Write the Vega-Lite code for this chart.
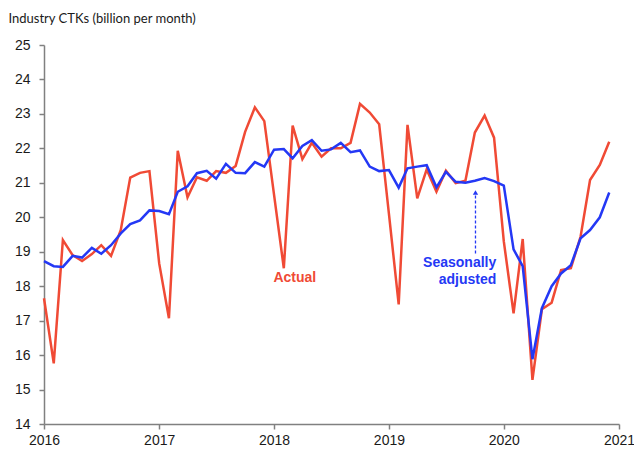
{
  "$schema": "https://vega.github.io/schema/vega-lite/v6.json",
  "autosize": "none",
  "width": 575,
  "height": 379,
  "padding": {"left": 44, "top": 45, "right": 15, "bottom": 28},
  "background": "white",
  "config": {"view": {"stroke": null}},
  "datasets": {
    "series": [
      {"date": "2016-01-01", "series": "Actual", "value": 17.65},
      {"date": "2016-02-01", "series": "Actual", "value": 15.76},
      {"date": "2016-03-01", "series": "Actual", "value": 19.34},
      {"date": "2016-04-01", "series": "Actual", "value": 18.9},
      {"date": "2016-05-01", "series": "Actual", "value": 18.73},
      {"date": "2016-06-01", "series": "Actual", "value": 18.93},
      {"date": "2016-07-01", "series": "Actual", "value": 19.19},
      {"date": "2016-08-01", "series": "Actual", "value": 18.88},
      {"date": "2016-09-01", "series": "Actual", "value": 19.63},
      {"date": "2016-10-01", "series": "Actual", "value": 21.15},
      {"date": "2016-11-01", "series": "Actual", "value": 21.29},
      {"date": "2016-12-01", "series": "Actual", "value": 21.34},
      {"date": "2017-01-01", "series": "Actual", "value": 18.66},
      {"date": "2017-02-01", "series": "Actual", "value": 17.07},
      {"date": "2017-03-01", "series": "Actual", "value": 21.93},
      {"date": "2017-04-01", "series": "Actual", "value": 20.58},
      {"date": "2017-05-01", "series": "Actual", "value": 21.16},
      {"date": "2017-06-01", "series": "Actual", "value": 21.06},
      {"date": "2017-07-01", "series": "Actual", "value": 21.34},
      {"date": "2017-08-01", "series": "Actual", "value": 21.29},
      {"date": "2017-09-01", "series": "Actual", "value": 21.49},
      {"date": "2017-10-01", "series": "Actual", "value": 22.48},
      {"date": "2017-11-01", "series": "Actual", "value": 23.19},
      {"date": "2017-12-01", "series": "Actual", "value": 22.79},
      {"date": "2018-01-01", "series": "Actual", "value": 20.65},
      {"date": "2018-02-01", "series": "Actual", "value": 18.52},
      {"date": "2018-03-01", "series": "Actual", "value": 22.66},
      {"date": "2018-04-01", "series": "Actual", "value": 21.69},
      {"date": "2018-05-01", "series": "Actual", "value": 22.16},
      {"date": "2018-06-01", "series": "Actual", "value": 21.76},
      {"date": "2018-07-01", "series": "Actual", "value": 22.0},
      {"date": "2018-08-01", "series": "Actual", "value": 22.0},
      {"date": "2018-09-01", "series": "Actual", "value": 22.16},
      {"date": "2018-10-01", "series": "Actual", "value": 23.29},
      {"date": "2018-11-01", "series": "Actual", "value": 23.04},
      {"date": "2018-12-01", "series": "Actual", "value": 22.7},
      {"date": "2019-01-01", "series": "Actual", "value": 20.1},
      {"date": "2019-02-01", "series": "Actual", "value": 17.47},
      {"date": "2019-03-01", "series": "Actual", "value": 22.68},
      {"date": "2019-04-01", "series": "Actual", "value": 20.55},
      {"date": "2019-05-01", "series": "Actual", "value": 21.39},
      {"date": "2019-06-01", "series": "Actual", "value": 20.74},
      {"date": "2019-07-01", "series": "Actual", "value": 21.35},
      {"date": "2019-08-01", "series": "Actual", "value": 20.99},
      {"date": "2019-09-01", "series": "Actual", "value": 21.06},
      {"date": "2019-10-01", "series": "Actual", "value": 22.46},
      {"date": "2019-11-01", "series": "Actual", "value": 22.95},
      {"date": "2019-12-01", "series": "Actual", "value": 22.31},
      {"date": "2020-01-01", "series": "Actual", "value": 19.3},
      {"date": "2020-02-01", "series": "Actual", "value": 17.21},
      {"date": "2020-03-01", "series": "Actual", "value": 19.37},
      {"date": "2020-04-01", "series": "Actual", "value": 15.28},
      {"date": "2020-05-01", "series": "Actual", "value": 17.33},
      {"date": "2020-06-01", "series": "Actual", "value": 17.52},
      {"date": "2020-07-01", "series": "Actual", "value": 18.47},
      {"date": "2020-08-01", "series": "Actual", "value": 18.52},
      {"date": "2020-09-01", "series": "Actual", "value": 19.44},
      {"date": "2020-10-01", "series": "Actual", "value": 21.08},
      {"date": "2020-11-01", "series": "Actual", "value": 21.52},
      {"date": "2020-12-01", "series": "Actual", "value": 22.19},
      {"date": "2016-01-01", "series": "Seasonally adjusted", "value": 18.73},
      {"date": "2016-02-01", "series": "Seasonally adjusted", "value": 18.58},
      {"date": "2016-03-01", "series": "Seasonally adjusted", "value": 18.56},
      {"date": "2016-04-01", "series": "Seasonally adjusted", "value": 18.88},
      {"date": "2016-05-01", "series": "Seasonally adjusted", "value": 18.83},
      {"date": "2016-06-01", "series": "Seasonally adjusted", "value": 19.11},
      {"date": "2016-07-01", "series": "Seasonally adjusted", "value": 18.94},
      {"date": "2016-08-01", "series": "Seasonally adjusted", "value": 19.19},
      {"date": "2016-09-01", "series": "Seasonally adjusted", "value": 19.53},
      {"date": "2016-10-01", "series": "Seasonally adjusted", "value": 19.8},
      {"date": "2016-11-01", "series": "Seasonally adjusted", "value": 19.91},
      {"date": "2016-12-01", "series": "Seasonally adjusted", "value": 20.2},
      {"date": "2017-01-01", "series": "Seasonally adjusted", "value": 20.18},
      {"date": "2017-02-01", "series": "Seasonally adjusted", "value": 20.09},
      {"date": "2017-03-01", "series": "Seasonally adjusted", "value": 20.74},
      {"date": "2017-04-01", "series": "Seasonally adjusted", "value": 20.9},
      {"date": "2017-05-01", "series": "Seasonally adjusted", "value": 21.28},
      {"date": "2017-06-01", "series": "Seasonally adjusted", "value": 21.35},
      {"date": "2017-07-01", "series": "Seasonally adjusted", "value": 21.12},
      {"date": "2017-08-01", "series": "Seasonally adjusted", "value": 21.55},
      {"date": "2017-09-01", "series": "Seasonally adjusted", "value": 21.29},
      {"date": "2017-10-01", "series": "Seasonally adjusted", "value": 21.28},
      {"date": "2017-11-01", "series": "Seasonally adjusted", "value": 21.6},
      {"date": "2017-12-01", "series": "Seasonally adjusted", "value": 21.47},
      {"date": "2018-01-01", "series": "Seasonally adjusted", "value": 21.96},
      {"date": "2018-02-01", "series": "Seasonally adjusted", "value": 21.98},
      {"date": "2018-03-01", "series": "Seasonally adjusted", "value": 21.71},
      {"date": "2018-04-01", "series": "Seasonally adjusted", "value": 22.07},
      {"date": "2018-05-01", "series": "Seasonally adjusted", "value": 22.24},
      {"date": "2018-06-01", "series": "Seasonally adjusted", "value": 21.93},
      {"date": "2018-07-01", "series": "Seasonally adjusted", "value": 21.97},
      {"date": "2018-08-01", "series": "Seasonally adjusted", "value": 22.16},
      {"date": "2018-09-01", "series": "Seasonally adjusted", "value": 21.89},
      {"date": "2018-10-01", "series": "Seasonally adjusted", "value": 21.94},
      {"date": "2018-11-01", "series": "Seasonally adjusted", "value": 21.47},
      {"date": "2018-12-01", "series": "Seasonally adjusted", "value": 21.34},
      {"date": "2019-01-01", "series": "Seasonally adjusted", "value": 21.37},
      {"date": "2019-02-01", "series": "Seasonally adjusted", "value": 20.86},
      {"date": "2019-03-01", "series": "Seasonally adjusted", "value": 21.42},
      {"date": "2019-04-01", "series": "Seasonally adjusted", "value": 21.47},
      {"date": "2019-05-01", "series": "Seasonally adjusted", "value": 21.51},
      {"date": "2019-06-01", "series": "Seasonally adjusted", "value": 20.87},
      {"date": "2019-07-01", "series": "Seasonally adjusted", "value": 21.32},
      {"date": "2019-08-01", "series": "Seasonally adjusted", "value": 21.03},
      {"date": "2019-09-01", "series": "Seasonally adjusted", "value": 21.0},
      {"date": "2019-10-01", "series": "Seasonally adjusted", "value": 21.06},
      {"date": "2019-11-01", "series": "Seasonally adjusted", "value": 21.14},
      {"date": "2019-12-01", "series": "Seasonally adjusted", "value": 21.05},
      {"date": "2020-01-01", "series": "Seasonally adjusted", "value": 20.92},
      {"date": "2020-02-01", "series": "Seasonally adjusted", "value": 19.07},
      {"date": "2020-03-01", "series": "Seasonally adjusted", "value": 18.58},
      {"date": "2020-04-01", "series": "Seasonally adjusted", "value": 15.88},
      {"date": "2020-05-01", "series": "Seasonally adjusted", "value": 17.36},
      {"date": "2020-06-01", "series": "Seasonally adjusted", "value": 18.0},
      {"date": "2020-07-01", "series": "Seasonally adjusted", "value": 18.37},
      {"date": "2020-08-01", "series": "Seasonally adjusted", "value": 18.61},
      {"date": "2020-09-01", "series": "Seasonally adjusted", "value": 19.39},
      {"date": "2020-10-01", "series": "Seasonally adjusted", "value": 19.63},
      {"date": "2020-11-01", "series": "Seasonally adjusted", "value": 20.0},
      {"date": "2020-12-01", "series": "Seasonally adjusted", "value": 20.72}
    ],
    "actualLabel": [
      {"date": "2018-03-08", "value": 18.24, "label": "Actual"}
    ],
    "saLabel": [
      {"date": "2019-12-08", "value": 18.67, "label": "Seasonally"},
      {"date": "2019-12-08", "value": 18.18, "label": "adjusted"}
    ],
    "arrow": [
      {"date": "2019-10-03", "value": 18.95, "value2": 20.72}
    ],
    "arrowHead": [
      {"date": "2019-10-03", "value": 20.72}
    ]
  },
  "encoding": {
    "x": {
      "field": "date",
      "type": "temporal",
      "scale": {"type": "utc", "domain": ["2016-01-01", "2021-01-01"], "nice": false},
      "axis": {
        "format": "%Y",
        "formatType": "utc",
        "values": ["2016-01-01", "2017-01-01", "2018-01-01", "2019-01-01", "2020-01-01", "2021-01-01"],
        "title": null,
        "grid": false,
        "domainColor": "#808080",
        "domainWidth": 1.5,
        "tickColor": "#808080",
        "tickWidth": 1.5,
        "tickSize": 5,
        "labelFont": "Liberation Sans",
        "labelFontSize": 14,
        "labelColor": "#1a1a1a",
        "labelPadding": 4,
        "labelFlush": false,
        "labelOverlap": false
      }
    },
    "y": {
      "field": "value",
      "type": "quantitative",
      "scale": {"domain": [14, 25], "nice": false, "zero": false},
      "axis": {
        "values": [14, 15, 16, 17, 18, 19, 20, 21, 22, 23, 24, 25],
        "title": "Industry CTKs (billion per month)",
        "titleAngle": 0,
        "titleAlign": "left",
        "titleBaseline": "alphabetic",
        "titleX": -36,
        "titleY": -23,
        "titleFont": "Lato",
        "titleFontSize": 13,
        "titleFontWeight": "normal",
        "titleColor": "#1a1a1a",
        "grid": false,
        "domainColor": "#808080",
        "domainWidth": 1.5,
        "tickColor": "#808080",
        "tickWidth": 1.5,
        "tickSize": 5,
        "labelFont": "Liberation Sans",
        "labelFontSize": 14,
        "labelColor": "#1a1a1a",
        "labelPadding": 9,
        "labelOverlap": false
      }
    }
  },
  "layer": [
    {
      "data": {"name": "series"},
      "mark": {"type": "line", "strokeWidth": 2.5, "clip": false},
      "encoding": {
        "color": {
          "field": "series",
          "type": "nominal",
          "scale": {"domain": ["Actual", "Seasonally adjusted"], "range": ["#F04A35", "#2438F5"]},
          "legend": null
        },
        "order": {"field": "date", "type": "temporal"}
      }
    },
    {
      "data": {"name": "arrow"},
      "mark": {"type": "rule", "strokeDash": [3, 2], "strokeWidth": 1.3, "color": "#2438F5"},
      "encoding": {
        "y2": {"field": "value2"}
      }
    },
    {
      "data": {"name": "arrowHead"},
      "mark": {"type": "point", "shape": "triangle-up", "filled": true, "size": 28, "color": "#2438F5", "opacity": 1},
      "encoding": {}
    },
    {
      "data": {"name": "actualLabel"},
      "mark": {"type": "text", "font": "Liberation Sans", "fontSize": 14, "fontWeight": "bold", "baseline": "middle", "align": "center", "color": "#F04A35"},
      "encoding": {
        "text": {"field": "label"}
      }
    },
    {
      "data": {"name": "saLabel"},
      "mark": {"type": "text", "font": "Liberation Sans", "fontSize": 14, "fontWeight": "bold", "baseline": "middle", "align": "right", "color": "#2438F5"},
      "encoding": {
        "text": {"field": "label"}
      }
    }
  ]
}
